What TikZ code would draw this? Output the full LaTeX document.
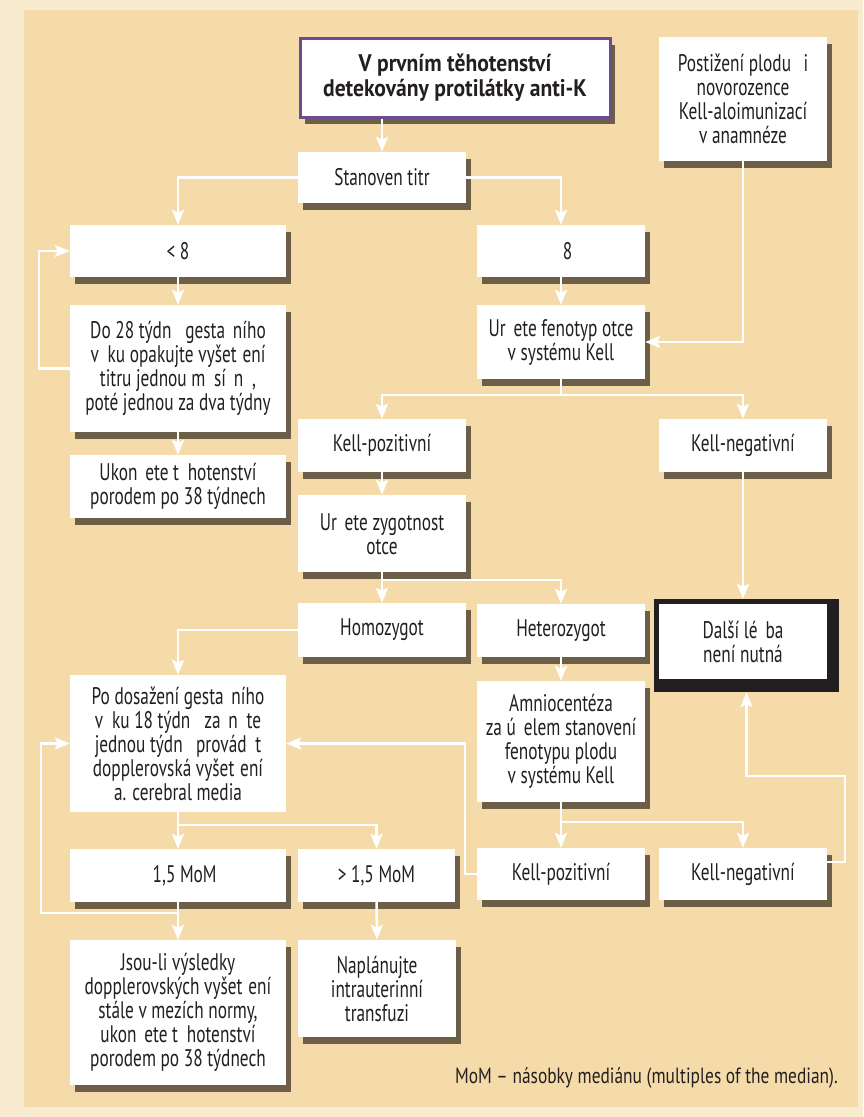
\documentclass[tikz,border=0pt]{standalone}
\usepackage{fontspec}
\setmainfont{PT Sans}[FakeStretch=0.72]
\newfontfamily\titlefont{PT Sans}[FakeStretch=0.9]
\newfontfamily\notefont{PT Sans}[FakeStretch=0.79]
\usetikzlibrary{arrows.meta,shadows,calc}
\definecolor{cream}{HTML}{F8EBCF}
\definecolor{panel}{HTML}{F4DBA9}
\definecolor{ink}{HTML}{231F20}
\definecolor{purp}{HTML}{6E4C8C}
\definecolor{shad}{HTML}{3A2E22}
\newcommand\miss[1]{\phantom{#1}}
\begin{document}
\begin{tikzpicture}[x=1pt,y=-1pt,
  txt/.style={text=ink, align=center, inner sep=0pt, font=\fontsize{24}{24}\selectfont},
  plainbox/.style={txt, fill=white},
  box/.style={plainbox, drop shadow={shadow xshift=5pt,shadow yshift=-7pt,fill=shad,opacity=.72}},
  arr/.style={white, line width=2.5pt, -{Stealth[length=15pt,width=12pt,inset=3pt]}},
  ln/.style={white, line width=2.5pt}]
\useasboundingbox (0,0) rectangle (863,1117);
\fill[cream] (0,0) rectangle (863,1117);
\fill[panel] (24,10) rectangle (858,1107);

% nodes
\node[box, draw=purp, line width=3pt, minimum width=310pt, minimum height=79pt, font=\fontsize{24}{25}\titlefont\bfseries] (title) at (455,77.5) {V prvním těhotenství\\detekovány protilátky anti-K};
\node[box, minimum width=168pt, minimum height=124pt] (post) at (743,99) {Postižení plodu \miss{č}i\\novorozence\\Kell-aloimunizací\\v anamnéze};
\node[box, minimum width=168pt, minimum height=51pt] (stan) at (382,177.5) {Stanoven titr};
\node[box, minimum width=216pt, minimum height=52pt] (lt8) at (178,251) {< 8};
\node[box, minimum width=168pt, minimum height=52pt] (ge8) at (561,251) {\miss{<} 8};
\node[box, minimum width=216pt, minimum height=127pt] (do28) at (178,368.5) {Do 28 týdn\miss{ů} gesta\miss{č}ního\\v\miss{ě}ku opakujte vyšet\miss{ř}ení\\titru jednou m\miss{ě}sí\miss{č}n\miss{ě},\\poté jednou za dva týdny};
\node[box, minimum width=168pt, minimum height=74pt] (fen) at (561,342) {Ur\miss{č}ete fenotyp otce\\v systému Kell};
\node[box, minimum width=216pt, minimum height=63pt] (ukon) at (178,486.5) {Ukon\miss{č}ete t\miss{ě}hotenství\\porodem po 38 týdnech};
\node[box, minimum width=168pt, minimum height=53pt] (kp1) at (382,445.5) {Kell-pozitivní};
\node[box, minimum width=168pt, minimum height=53pt] (kn1) at (743,445.5) {Kell-negativní};
\node[box, minimum width=168pt, minimum height=77pt] (zyg) at (382,533.5) {Ur\miss{č}ete zygotnost\\otce};
\node[box, minimum width=168pt, minimum height=54pt] (homo) at (382,630) {Homozygot};
\node[box, minimum width=168pt, minimum height=53pt] (het) at (561,630.5) {Heterozygot};
\node[fill=ink, minimum width=185pt, minimum height=93pt, inner sep=0pt] (dalsi) at (746.5,645.5) {};
\node[plainbox, minimum width=168pt, minimum height=75pt] (dalsitxt) at (743,641.5) {Další lé\miss{č}ba\\není nutná};
\node[box, minimum width=168pt, minimum height=121pt] (amnio) at (561,741.5) {Amniocentéza\\za ú\miss{č}elem stanovení\\fenotypu plodu\\v systému Kell};
\node[plainbox, minimum width=216pt, minimum height=137pt] (po) at (178,743.5) {Po dosažení gesta\miss{č}ního\\v\miss{ě}ku 18 týdn\miss{ů} za\miss{č}n\miss{ě}te\\jednou týdn\miss{ě} provád\miss{ě}t\\dopplerovská vyšet\miss{ř}ení\\a. cerebral media};
\node[box, minimum width=216pt, minimum height=53pt] (m1) at (178,875.5) {\miss{<} 1,5 MoM};
\node[box, minimum width=157pt, minimum height=53pt] (m2) at (376.5,875.5) {> 1,5 MoM};
\node[box, minimum width=168pt, minimum height=52pt] (kp2) at (561,874) {Kell-pozitivní};
\node[box, minimum width=168pt, minimum height=52pt] (kn2) at (743,874) {Kell-negativní};
\node[box, minimum width=216pt, minimum height=145pt] (jsou) at (178,1012.5) {Jsou-li výsledky\\dopplerovských vyšet\miss{ř}ení\\stále v mezích normy,\\ukon\miss{č}ete t\miss{ě}hotenství\\porodem po 38 týdnech};
\node[box, minimum width=158pt, minimum height=97pt] (napl) at (377,988.5) {Naplánujte\\intrauterinní\\transfuzi};
\node[txt, anchor=east, font=\fontsize{22}{24}\notefont] (note) at (838,1078) {MoM – násobky mediánu (multiples of the median).};

% bend points
\coordinate (l1) at (39,367);
\coordinate (l2) at (41,913);
\coordinate (l3) at (465,745);
\coordinate (b1) at (845,776);
\coordinate (s4) at (178,825);

% connectors
\draw[arr] (stan.north |- title.south) -- (stan.north);
\draw[arr] (stan.west) -| (lt8.north);
\draw[arr] (stan.east) -| (ge8.north);
\draw[arr] (lt8.south) -- (do28.north);
\draw[arr] (do28.west) -- (do28.west -| l1) |- (lt8.west);
\draw[arr] (do28.south) -- (ukon.north);
\draw[arr] (ge8.south) -- (fen.north);
\draw[arr] (post.south) |- (fen.east);
\draw[arr] (fen.south) -- ++(0,16) -| (kp1.north);
\draw[arr] (fen.south) -- ++(0,16) -| (kn1.north);
\draw[arr] (kp1.south) -- (zyg.north);
\draw[arr] (zyg.south) -- (homo.north);
\draw[arr] (zyg.south) -- ++(0,8) -| (het.north);
\draw[arr] (kn1.south) -- (kn1.south |- dalsi.north);
\draw[arr] (het.south) -- (amnio.north);
\draw[arr] (amnio.south) -- (kp2.north);
\draw[arr] (amnio.south) -- ++(0,20) -| (kn2.north);
\draw[arr] ($(kn2.east)+(0,-12)$) -| (b1) -| (dalsi.south);
\draw[arr] (kp2.west) -- (kp2.west -| l3) |- (po.east);
\draw[arr] (homo.west) -| (po.north);
\draw[arr] (po.south) -- (m1.north);
\draw[arr] (s4) -| (m2.north);
\draw[arr] (m1.south) -- (jsou.north);
\draw[arr] (m1.south |- l2) -- (l2) |- (po.west);
\draw[arr] (m2.south) -- (napl.north);
\end{tikzpicture}
\end{document}
